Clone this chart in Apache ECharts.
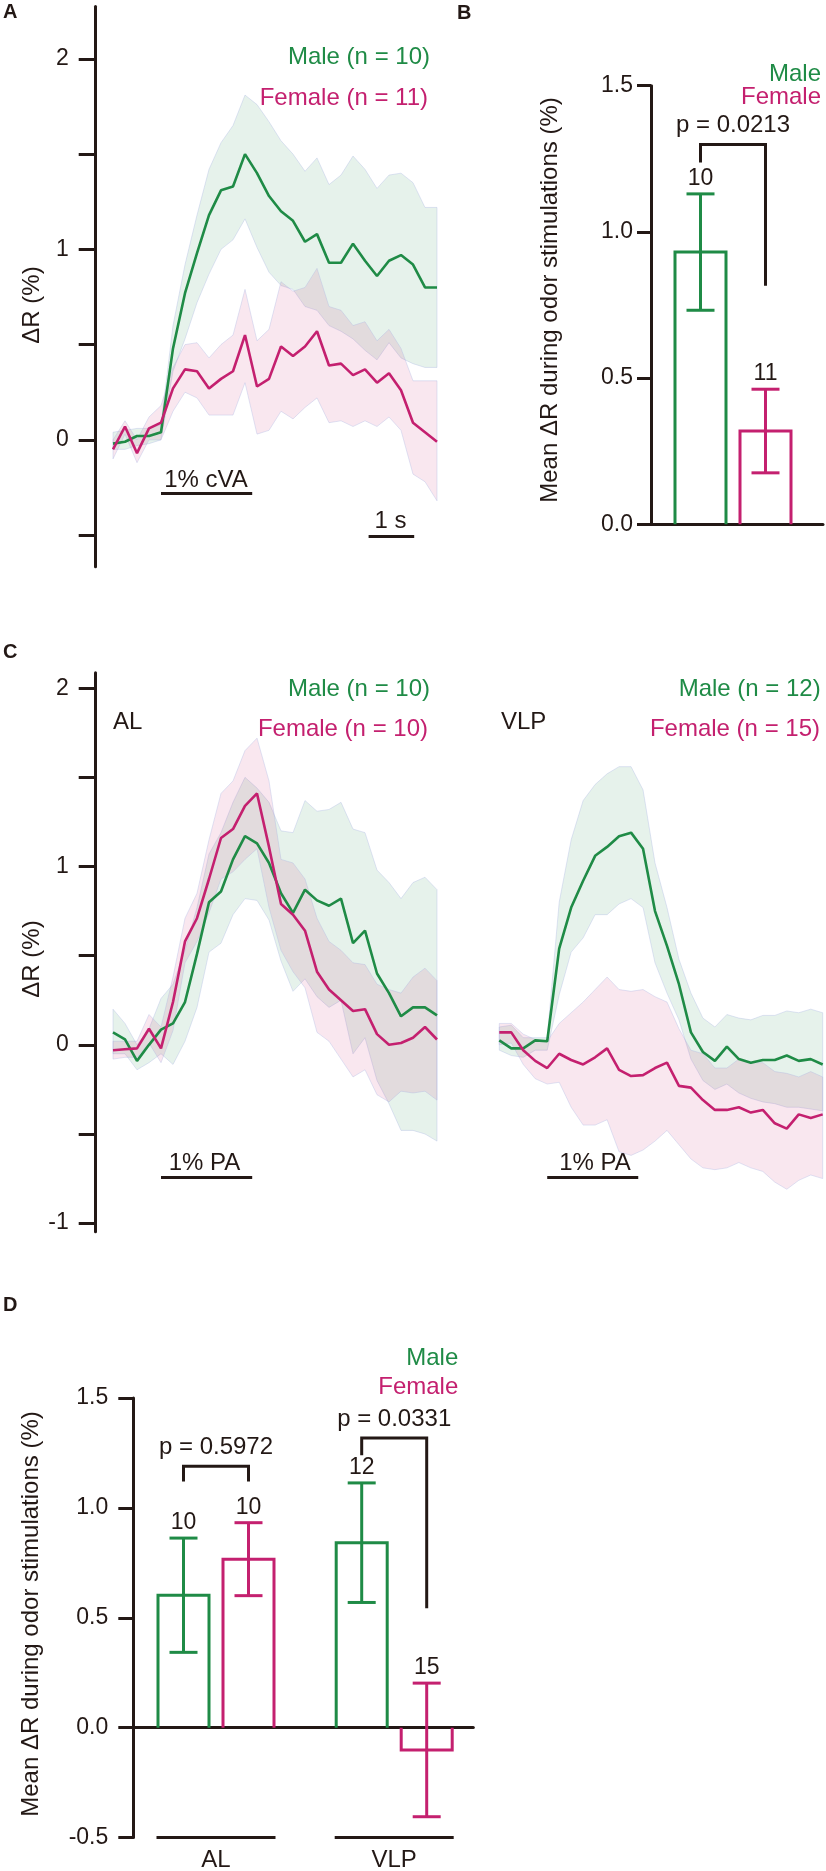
<!DOCTYPE html>
<html><head><meta charset="utf-8">
<script src="https://cdn.jsdelivr.net/npm/echarts@6/dist/echarts.min.js"></script>
<style>html,body{margin:0;padding:0;background:#fff}#chart{width:826px;height:1871px}</style>
</head><body><div id="chart"></div>
<script>
// ================= DATA =================
// Panel A: cVA responses, 28 frames
const aMaleMean   = [-0.02,-0.01,0.02,0.02,0.04,0.48,0.77,0.98,1.18,1.31,1.33,1.50,1.40,1.28,1.20,1.15,1.04,1.08,0.93,0.93,1.03,0.94,0.86,0.94,0.97,0.92,0.80,0.80];
const aMaleLow    = [-0.05,-0.05,-0.03,-0.02,0.00,0.36,0.53,0.72,0.87,1.00,1.05,1.16,1.01,0.88,0.81,0.79,0.70,0.68,0.60,0.57,0.53,0.47,0.42,0.51,0.43,0.40,0.38,0.38];
const aMaleHigh   = [0.04,0.05,0.06,0.06,0.08,0.60,0.92,1.18,1.42,1.56,1.65,1.81,1.76,1.67,1.57,1.50,1.41,1.48,1.34,1.39,1.49,1.42,1.32,1.39,1.40,1.35,1.22,1.22];
const aFemaleMean = [-0.05,0.07,-0.07,0.06,0.09,0.27,0.37,0.36,0.27,0.32,0.36,0.55,0.28,0.32,0.49,0.44,0.49,0.57,0.39,0.40,0.34,0.37,0.30,0.35,0.26,0.09,0.04,-0.01];
const aFemaleLow  = [-0.10,0.03,-0.12,0.00,0.00,0.15,0.25,0.22,0.13,0.13,0.13,0.30,0.03,0.05,0.15,0.11,0.17,0.22,0.09,0.10,0.07,0.10,0.07,0.12,0.05,-0.18,-0.22,-0.32];
const aFemaleHigh = [0.00,0.10,0.00,0.12,0.18,0.38,0.50,0.51,0.43,0.50,0.55,0.79,0.52,0.58,0.83,0.78,0.80,0.90,0.70,0.68,0.60,0.62,0.52,0.58,0.48,0.31,0.31,0.31];

// Panel B: mean response during cVA
const bSexes = ['Male', 'Female'];
const bMean  = [0.931, 0.319];
const bSem   = [0.199, 0.143];
const bN     = [10, 11];
const bPValue = 'p = 0.0213';

// Panel C: PA responses, AL and VLP
const cAlMaleMean    = [0.07,0.03,-0.09,0.00,0.085,0.12,0.24,0.51,0.80,0.86,1.04,1.17,1.13,1.02,0.85,0.74,0.87,0.81,0.78,0.82,0.57,0.64,0.40,0.29,0.16,0.21,0.21,0.165];
const cAlMaleLow     = [-0.05,-0.05,-0.14,-0.10,-0.05,-0.11,0.02,0.21,0.52,0.57,0.73,0.82,0.81,0.70,0.47,0.30,0.37,0.27,0.21,0.25,-0.05,0.04,-0.20,-0.33,-0.48,-0.48,-0.50,-0.54];
const cAlMaleHigh    = [0.20,0.12,0.00,0.09,0.26,0.34,0.53,0.77,1.07,1.19,1.36,1.50,1.44,1.36,1.20,1.19,1.37,1.31,1.32,1.36,1.21,1.19,0.98,0.91,0.82,0.91,0.94,0.87];
const cAlFemaleMean  = [-0.03,-0.025,-0.02,0.09,-0.02,0.24,0.58,0.71,0.93,1.16,1.21,1.34,1.41,1.11,0.79,0.73,0.64,0.41,0.31,0.25,0.19,0.20,0.06,0.00,0.01,0.04,0.10,0.03];
const cAlFemaleLow   = [-0.08,-0.07,-0.07,0.01,-0.10,0.08,0.46,0.58,0.74,0.93,0.97,1.04,1.10,0.77,0.53,0.41,0.32,0.07,0.02,-0.08,-0.18,-0.14,-0.28,-0.32,-0.26,-0.27,-0.26,-0.31];
const cAlFemaleHigh  = [0.02,0.02,0.02,0.17,0.10,0.38,0.71,0.85,1.15,1.41,1.48,1.65,1.72,1.48,1.04,1.02,0.93,0.71,0.58,0.53,0.46,0.45,0.34,0.31,0.29,0.38,0.43,0.36];

const cVlpMaleMean   = [0.025,-0.02,-0.02,0.025,0.02,0.54,0.77,0.92,1.06,1.11,1.17,1.19,1.10,0.75,0.555,0.34,0.07,-0.04,-0.09,-0.01,-0.08,-0.10,-0.085,-0.085,-0.06,-0.09,-0.08,-0.11];
const cVlpMaleLow    = [-0.03,-0.06,-0.07,-0.03,-0.03,0.28,0.52,0.60,0.73,0.73,0.79,0.82,0.77,0.46,0.29,0.14,-0.08,-0.20,-0.25,-0.22,-0.27,-0.30,-0.32,-0.33,-0.35,-0.35,-0.36,-0.37];
const cVlpMaleHigh   = [0.10,0.11,0.04,0.04,0.04,0.80,1.15,1.37,1.46,1.52,1.56,1.56,1.43,1.02,0.77,0.48,0.29,0.15,0.10,0.17,0.15,0.14,0.165,0.165,0.19,0.18,0.20,0.18];
const cVlpFemaleMean = [0.07,0.07,-0.03,-0.09,-0.13,-0.05,-0.085,-0.11,-0.07,-0.02,-0.14,-0.175,-0.17,-0.13,-0.10,-0.23,-0.24,-0.31,-0.365,-0.365,-0.35,-0.38,-0.365,-0.44,-0.47,-0.39,-0.41,-0.39];
const cVlpFemaleLow  = [0.00,0.01,-0.11,-0.19,-0.22,-0.21,-0.35,-0.45,-0.45,-0.42,-0.60,-0.62,-0.59,-0.54,-0.48,-0.56,-0.64,-0.69,-0.70,-0.69,-0.66,-0.69,-0.71,-0.77,-0.81,-0.76,-0.73,-0.75];
const cVlpFemaleHigh = [0.12,0.12,0.06,0.03,0.02,0.12,0.18,0.24,0.31,0.38,0.31,0.30,0.31,0.27,0.24,0.09,-0.03,-0.05,-0.13,-0.13,-0.08,-0.10,-0.10,-0.15,-0.16,-0.18,-0.15,-0.18];

// Panel D: mean response during PA
const dGroups      = ['AL', 'VLP'];
const dMaleMean    = [0.603, 0.842];
const dMaleSem     = [0.260, 0.272];
const dMaleN       = [10, 12];
const dFemaleMean  = [0.767, -0.101];
const dFemaleSem   = [0.166, 0.304];
const dFemaleN     = [10, 15];
const dPValues     = ['p = 0.5972', 'p = 0.0331'];

// Tick labels
const traceTicks   = [-1, -0.5, 0, 0.5, 1, 1.5, 2];
const aTickLabels  = [0, 1, 2];
const cTickLabels  = [-1, 0, 1, 2];

// Stimulus timing (frames)
const framesPerSecond = 3.8;
const stimOnsetFrame = 4;
const stimDurationS = 2;

// ================= STYLE / LAYOUT =================
const FONT = '"Liberation Sans", Arial, Helvetica, sans-serif';
const INK = '#231815';
const GREEN = '#1f8b46';
const PINK = '#c4206f';
const GREEN_BAND = 'rgba(31,139,70,0.11)';
const PINK_BAND = 'rgba(196,32,111,0.11)';
const BAND_EDGE = 'rgba(170,180,225,0.35)';
const BAR_W = 51, CAP_W = 28, LW = 3;

const chart = echarts.init(document.getElementById('chart'), null, {renderer: 'canvas'});

const nFrames = aMaleMean.length;
const pts = arr => arr.map((v, i) => [i, v]);

function band(xi, yi, low, high, color) {
  return {
    type: 'custom', xAxisIndex: xi, yAxisIndex: yi, silent: true, z: 1,
    data: [[0, low[0]]],
    renderItem: (params, api) => {
      const p = [];
      for (let i = 0; i < high.length; i++) p.push(api.coord([i, high[i]]));
      for (let i = low.length - 1; i >= 0; i--) p.push(api.coord([i, low[i]]));
      return {type: 'polygon', shape: {points: p}, style: {fill: color, stroke: BAND_EDGE, lineWidth: 1}};
    }
  };
}
function trace(xi, yi, mean, color, marks) {
  const s = {
    type: 'line', xAxisIndex: xi, yAxisIndex: yi, data: pts(mean), symbol: 'none',
    showSymbol: false, silent: true, z: 3, lineStyle: {color, width: 2.6}
  };
  if (marks) {
    s.markLine = {
      silent: true, symbol: ['none', 'none'], label: {show: false}, animation: false,
      lineStyle: {color: INK, width: LW, type: 'solid'},
      data: marks.map(m => [{coord: [m[0], m[2]]}, {coord: [m[1], m[2]]}])
    };
  }
  return s;
}
const stimEnd = stimOnsetFrame + stimDurationS * framesPerSecond;
const oneSecStart = 21.3;

function barRenderer(color, shiftPx) {
  return (params, api) => {
    const cat = api.value(0), mean = api.value(1), sem = api.value(2), n = api.value(3);
    const base = api.coord([cat, 0]);
    const x = base[0] + shiftPx[cat];
    const yTop = api.coord([cat, mean])[1];
    const eHi = api.coord([cat, mean + sem])[1];
    const eLo = api.coord([cat, mean - sem])[1];
    const hw = BAR_W / 2, cw = CAP_W / 2;
    const st = {stroke: color, lineWidth: LW, fill: 'none'};
    return {type: 'group', children: [
      {type: 'polyline', shape: {points: [[x - hw, base[1]], [x - hw, yTop], [x + hw, yTop], [x + hw, base[1]]]}, style: st},
      {type: 'line', shape: {x1: x, y1: eHi, x2: x, y2: eLo}, style: st},
      {type: 'line', shape: {x1: x - cw, y1: eHi, x2: x + cw, y2: eHi}, style: st},
      {type: 'line', shape: {x1: x - cw, y1: eLo, x2: x + cw, y2: eLo}, style: st},
      {type: 'text', x: x, y: eHi - 15.5, style: {text: String(n), fill: INK, fontSize: 23, fontFamily: FONT, align: 'center', verticalAlign: 'middle'}}
    ]};
  };
}
function bracketRenderer(leftShift, rightShift, labels) {
  return (params, api) => {
    const cat = api.value(0);
    const c = api.coord([cat, api.value(1)]);
    const xL = c[0] + leftShift[cat], xR = c[0] + rightShift[cat];
    const yT = c[1];
    const yL = api.coord([cat, api.value(2)])[1];
    const yR = api.coord([cat, api.value(3)])[1];
    return {type: 'group', children: [
      {type: 'polyline', shape: {points: [[xL, yL], [xL, yT], [xR, yT], [xR, yR]]}, style: {stroke: INK, lineWidth: LW, fill: 'none'}},
      {type: 'text', x: (xL + xR) / 2, y: yT - 19, style: {text: labels[params.dataIndex], fill: INK, fontSize: 24, fontFamily: FONT, align: 'center', verticalAlign: 'middle'}}
    ]};
  };
}

// layout offsets for bar panels (px from category centre)
const bMaleShift = [-36.5], bFemaleShift = [28.5];
const dMaleShift = [-34.8, -26.6], dFemaleShift = [30.2, 38.4];
const bBracketLevels = [[0, 1.299, 1.237, 0.816]];
const dBracketLevels = [[0, 1.190, 1.121, 1.121], [1, 1.318, 1.240, 0.544]];

function yTrace(gi, min, max, ticks, labels, show) {
  return {
    gridIndex: gi, type: 'value', min, max, offset: 17.3, show,
    axisLine: {show: true, onZero: false, lineStyle: {color: INK, width: LW}},
    axisTick: {show: true, length: 17, lineStyle: {color: INK, width: LW}, customValues: ticks},
    axisLabel: {customValues: labels, margin: 27, fontSize: 23, color: INK, fontFamily: FONT},
    splitLine: {show: false}
  };
}
function yBar(gi, min, max, tickLen, margin) {
  return {
    gridIndex: gi, type: 'value', min, max, interval: 0.5,
    axisLine: {show: true, onZero: false, lineStyle: {color: INK, width: LW}},
    axisTick: {show: true, length: tickLen, lineStyle: {color: INK, width: LW}},
    axisLabel: {margin, fontSize: 23, color: INK, fontFamily: FONT, formatter: v => v.toFixed(1)},
    splitLine: {show: false}
  };
}

function txt(x, y, text, o = {}) {
  return {type: 'text', x, y, rotation: o.rot || 0, silent: true,
    style: {text, fill: o.color || INK, fontSize: o.size || 24, fontFamily: FONT,
      fontWeight: o.bold ? 'bold' : 'normal', align: o.align || 'center', verticalAlign: 'middle'}};
}
const yLabelBar = 'Mean ΔR during odor stimulations (%)';

const option = {
  animation: false,
  backgroundColor: '#fff',
  textStyle: {fontFamily: FONT},
  grid: [
    {left: 113, top: 6.5, width: 324, height: 560.2, outerBoundsMode: 'none'},
    {left: 651, top: 85.7, width: 172, height: 438.6, outerBoundsMode: 'none'},
    {left: 113, top: 672.7, width: 324, height: 559, outerBoundsMode: 'none'},
    {left: 499.3, top: 672.7, width: 323.4, height: 559, outerBoundsMode: 'none'},
    {left: 133.3, top: 1398.1, width: 340, height: 439.5, outerBoundsMode: 'none'}
  ],
  xAxis: [
    {gridIndex: 0, type: 'value', min: 0, max: nFrames - 1, show: false},
    {gridIndex: 1, type: 'category', data: [''], axisLine: {lineStyle: {color: INK, width: LW}}, axisTick: {show: false}, axisLabel: {show: false}},
    {gridIndex: 2, type: 'value', min: 0, max: nFrames - 1, show: false},
    {gridIndex: 3, type: 'value', min: 0, max: nFrames - 1, show: false},
    {gridIndex: 4, type: 'category', data: dGroups, axisLine: {onZero: true, lineStyle: {color: INK, width: LW}}, axisTick: {show: false}, axisLabel: {show: false}}
  ],
  yAxis: [
    yTrace(0, -0.666, 2.275, traceTicks.filter(t => t >= -0.5), aTickLabels, true),
    yBar(1, 0, 1.5, 14, 18),
    yTrace(2, -1.048, 2.087, traceTicks, cTickLabels, true),
    yTrace(3, -1.048, 2.087, traceTicks, cTickLabels, false),
    yBar(4, -0.5, 1.5, 15, 25)
  ],
  series: [
    // A
    band(0, 0, aMaleLow, aMaleHigh, GREEN_BAND),
    band(0, 0, aFemaleLow, aFemaleHigh, PINK_BAND),
    trace(0, 0, aMaleMean, GREEN),
    trace(0, 0, aFemaleMean, PINK, [[stimOnsetFrame, stimEnd, -0.28], [oneSecStart, oneSecStart + framesPerSecond, -0.505]]),
    // B
    {type: 'custom', xAxisIndex: 1, yAxisIndex: 1, z: 3, renderItem: barRenderer(GREEN, bMaleShift), data: [[0, bMean[0], bSem[0], bN[0]]]},
    {type: 'custom', xAxisIndex: 1, yAxisIndex: 1, z: 3, renderItem: barRenderer(PINK, bFemaleShift), data: [[0, bMean[1], bSem[1], bN[1]]]},
    {type: 'custom', xAxisIndex: 1, yAxisIndex: 1, z: 3, renderItem: bracketRenderer(bMaleShift, bFemaleShift, [bPValue]), data: bBracketLevels},
    // C AL
    band(2, 2, cAlMaleLow, cAlMaleHigh, GREEN_BAND),
    band(2, 2, cAlFemaleLow, cAlFemaleHigh, PINK_BAND),
    trace(2, 2, cAlMaleMean, GREEN),
    trace(2, 2, cAlFemaleMean, PINK, [[stimOnsetFrame, stimEnd, -0.74]]),
    // C VLP
    band(3, 3, cVlpMaleLow, cVlpMaleHigh, GREEN_BAND),
    band(3, 3, cVlpFemaleLow, cVlpFemaleHigh, PINK_BAND),
    trace(3, 3, cVlpMaleMean, GREEN),
    trace(3, 3, cVlpFemaleMean, PINK, [[stimOnsetFrame, stimEnd, -0.74]]),
    // D
    {type: 'custom', xAxisIndex: 4, yAxisIndex: 4, z: 3, renderItem: barRenderer(GREEN, dMaleShift), data: dGroups.map((g, i) => [i, dMaleMean[i], dMaleSem[i], dMaleN[i]])},
    {type: 'custom', xAxisIndex: 4, yAxisIndex: 4, z: 3, renderItem: barRenderer(PINK, dFemaleShift), data: dGroups.map((g, i) => [i, dFemaleMean[i], dFemaleSem[i], dFemaleN[i]])},
    {type: 'custom', xAxisIndex: 4, yAxisIndex: 4, z: 3, renderItem: bracketRenderer(dMaleShift, dFemaleShift, dPValues), data: dBracketLevels},
    {type: 'custom', xAxisIndex: 4, yAxisIndex: 4, z: 3, data: dGroups.map((g, i) => [i, -0.5]),
      renderItem: (params, api) => {
        const cat = api.value(0);
        const c = api.coord([cat, api.value(1)]);
        const x1 = c[0] + dMaleShift[cat] - BAR_W / 2 - 1.5, x2 = c[0] + dFemaleShift[cat] + BAR_W / 2 + 1.5;
        return {type: 'group', children: [
          {type: 'line', shape: {x1, y1: c[1], x2, y2: c[1]}, style: {stroke: INK, lineWidth: LW}},
          {type: 'text', x: (x1 + x2) / 2, y: c[1] + 22.5, style: {text: dGroups[cat], fill: INK, fontSize: 24, fontFamily: FONT, align: 'center', verticalAlign: 'middle'}}
        ]};
      }}
  ],
  graphic: {elements: [
    txt(3, 12.8, 'A', {bold: true, size: 20, align: 'left'}),
    txt(430, 57.5, 'Male (n = 10)', {color: GREEN, align: 'right'}),
    txt(428, 98.5, 'Female (n = 11)', {color: PINK, align: 'right'}),
    txt(206, 480, '1% cVA'),
    txt(390.5, 521.5, '1 s'),
    txt(32, 305, 'ΔR (%)', {rot: Math.PI / 2}),

    txt(457, 13.4, 'B', {bold: true, size: 20, align: 'left'}),
    txt(821, 74.5, 'Male', {color: GREEN, align: 'right'}),
    txt(821, 97.5, 'Female', {color: PINK, align: 'right'}),
    txt(550, 300, yLabelBar, {rot: Math.PI / 2}),

    txt(3, 652, 'C', {bold: true, size: 20, align: 'left'}),
    txt(113, 722, 'AL', {align: 'left'}),
    txt(430, 689, 'Male (n = 10)', {color: GREEN, align: 'right'}),
    txt(428, 729.6, 'Female (n = 10)', {color: PINK, align: 'right'}),
    txt(204.5, 1163.8, '1% PA'),
    txt(32, 959, 'ΔR (%)', {rot: Math.PI / 2}),
    txt(501, 722, 'VLP', {align: 'left'}),
    txt(820.7, 689, 'Male (n = 12)', {color: GREEN, align: 'right'}),
    txt(820, 729.6, 'Female (n = 15)', {color: PINK, align: 'right'}),
    txt(595, 1163.8, '1% PA'),

    txt(3, 1305, 'D', {bold: true, size: 20, align: 'left'}),
    txt(458.3, 1358.7, 'Male', {color: GREEN, align: 'right'}),
    txt(458.3, 1387, 'Female', {color: PINK, align: 'right'}),
    txt(31, 1614, yLabelBar, {rot: Math.PI / 2})
  ]}
};
chart.setOption(option);
</script></body></html>
